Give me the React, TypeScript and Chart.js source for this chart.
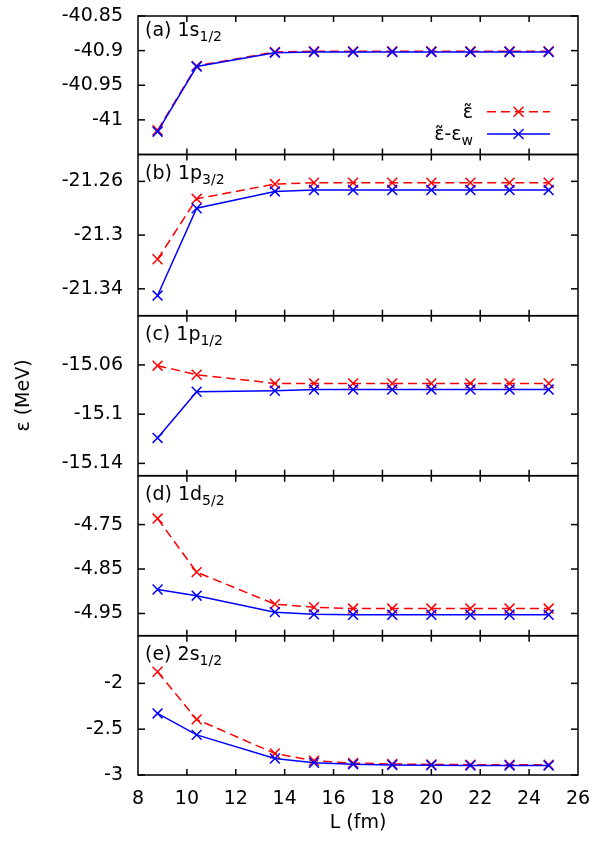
import { useEffect, useRef } from "react";
import { Chart, registerables } from "chart.js";

Chart.register(...registerables);

// ---------- data ----------
const L = [8.8, 10.4, 13.6, 15.2, 16.8, 18.4, 20.0, 21.6, 23.2, 24.8];
const xTickValues = [8, 10, 12, 14, 16, 18, 20, 22, 24, 26];

const epsA = [-41.015, -40.922, -40.902, -40.901, -40.901, -40.901, -40.901, -40.901, -40.901, -40.901];
const epsWA = [-41.017, -40.923, -40.903, -40.902, -40.902, -40.902, -40.902, -40.902, -40.902, -40.902];

const epsB = [-21.318, -21.273, -21.262, -21.261, -21.261, -21.261, -21.261, -21.261, -21.261, -21.261];
const epsWB = [-21.345, -21.280, -21.2675, -21.2665, -21.2665, -21.2665, -21.2665, -21.2665, -21.2665, -21.2665];

const epsC = [-15.0606, -15.068, -15.075, -15.075, -15.075, -15.075, -15.075, -15.075, -15.075, -15.075];
const epsWC = [-15.1193, -15.0818, -15.081, -15.080, -15.080, -15.080, -15.080, -15.080, -15.080, -15.080];

const epsD = [-4.7365, -4.857, -4.929, -4.936, -4.939, -4.939, -4.939, -4.939, -4.939, -4.939];
const epsWD = [-4.896, -4.910, -4.947, -4.952, -4.953, -4.953, -4.953, -4.953, -4.953, -4.953];

const epsE = [-1.873, -2.393, -2.765, -2.845, -2.870, -2.880, -2.885, -2.887, -2.887, -2.888];
const epsWE = [-2.328, -2.562, -2.820, -2.866, -2.882, -2.890, -2.894, -2.896, -2.896, -2.897];

const ticksA = [-41, -40.95, -40.9, -40.85];
const ticksB = [-21.34, -21.3, -21.26];
const ticksC = [-15.14, -15.1, -15.06];
const ticksD = [-4.95, -4.85, -4.75];
const ticksE = [-3, -2.5, -2];

const labelsMain = ["(a) 1s", "(b) 1p", "(c) 1p", "(d) 1d", "(e) 2s"];
const labelsSub = ["1/2", "3/2", "1/2", "5/2", "1/2"];

// ---------- layout / styles ----------
const FONT = "'DejaVu Sans', 'Liberation Sans', Arial, sans-serif";
const FS = 19;
const FS_SUB = 14;
const RED = "rgb(255,0,0)";
const BLUE = "rgb(0,0,255)";

const panels = [
  { id: "ya", eps: epsA, epsw: epsWA, min: -41.05, max: -40.85, ticks: ticksA, h: 138.5, labelOff: 14 },
  { id: "yb", eps: epsB, epsw: epsWB, min: -21.36, max: -21.24, ticks: ticksB, h: 161.2, labelOff: 18.7 },
  { id: "yc", eps: epsC, epsw: epsWC, min: -15.15, max: -15.02, ticks: ticksC, h: 160, labelOff: 18.7 },
  { id: "yd", eps: epsD, epsw: epsWD, min: -5.0, max: -4.64, ticks: ticksD, h: 160, labelOff: 18.7 },
  { id: "ye", eps: epsE, epsw: epsWE, min: -3, max: -1.48, ticks: ticksE, h: 139.3, labelOff: 18.7 },
];

const fmt = (v: number) => String(+v.toFixed(4));

function line(ctx: CanvasRenderingContext2D, x1: number, y1: number, x2: number, y2: number) {
  ctx.beginPath();
  ctx.moveTo(x1, y1);
  ctx.lineTo(x2, y2);
  ctx.stroke();
}

function cross(ctx: CanvasRenderingContext2D, x: number, y: number, r: number) {
  line(ctx, x - r, y - r, x + r, y + r);
  line(ctx, x - r, y + r, x + r, y - r);
}

// draws "ε" with a tilde above it, starting at x (left aligned); returns width
function epsTilde(ctx: CanvasRenderingContext2D, x: number, base: number) {
  ctx.textAlign = "left";
  ctx.fillText("ε", x, base);
  const w = ctx.measureText("ε").width;
  ctx.textAlign = "center";
  ctx.fillText("\u02DC", x + w / 2, base + 1);
  ctx.textAlign = "left";
  return w;
}

const framePlugin = {
  id: "frames",
  afterDatasetsDraw(chart: any) {
    const { ctx, chartArea: ca, scales } = chart;
    ctx.save();
    ctx.strokeStyle = "#000";
    ctx.lineWidth = 1.5;
    ctx.setLineDash([]);
    panels.forEach((p) => {
      const s = scales[p.id];
      ctx.strokeRect(ca.left, s.top, ca.right - ca.left, s.bottom - s.top);
      p.ticks.forEach((v) => {
        const y = s.getPixelForValue(v);
        line(ctx, ca.left, y, ca.left + 7, y);
        line(ctx, ca.right, y, ca.right - 7, y);
      });
      xTickValues.forEach((v) => {
        if (v === 8 || v === 26) return;
        const x = scales.x.getPixelForValue(v);
        line(ctx, x, s.top, x, s.top + 6);
        line(ctx, x, s.bottom, x, s.bottom - 6);
      });
    });
    ctx.restore();
  },
  afterDraw(chart: any) {
    const { ctx, chartArea: ca, scales } = chart;
    ctx.save();
    ctx.fillStyle = "#000";
    ctx.textBaseline = "alphabetic";
    // panel labels
    panels.forEach((p, i) => {
      const s = scales[p.id];
      const base = s.top + p.labelOff + 6;
      ctx.font = `${FS}px ${FONT}`;
      ctx.textAlign = "left";
      ctx.fillText(labelsMain[i], ca.left + 7, base);
      const w = ctx.measureText(labelsMain[i]).width;
      ctx.font = `${FS_SUB}px ${FONT}`;
      ctx.fillText(labelsSub[i], ca.left + 7 + w, base + 5);
    });
    // legend in panel (a)
    const textRight = 473;
    ctx.font = `${FS}px ${FONT}`;
    const epsW = ctx.measureText("ε").width;
    const dashW = ctx.measureText("-").width;
    // row 1
    {
      const y = 111.7;
      ctx.font = `${FS}px ${FONT}`;
      ctx.fillStyle = "#000";
      epsTilde(ctx, textRight - epsW, y + 6);
      ctx.strokeStyle = RED;
      ctx.lineWidth = 1.5;
      ctx.setLineDash([9, 5]);
      line(ctx, 487, y, 550, y);
      ctx.setLineDash([]);
      cross(ctx, 518.5, y, 5);
    }
    // row 2
    {
      const y = 134;
      ctx.font = `${FS_SUB}px ${FONT}`;
      const subW = ctx.measureText("w").width;
      const total = epsW + dashW + epsW + subW;
      let x = textRight - total;
      ctx.font = `${FS}px ${FONT}`;
      ctx.fillStyle = "#000";
      x += epsTilde(ctx, x, y + 6);
      ctx.fillText("-", x, y + 6);
      x += dashW;
      ctx.fillText("ε", x, y + 6);
      x += epsW;
      ctx.font = `${FS_SUB}px ${FONT}`;
      ctx.fillText("w", x, y + 11);
      ctx.strokeStyle = BLUE;
      ctx.lineWidth = 1.5;
      line(ctx, 487, y, 550, y);
      cross(ctx, 518.5, y, 5);
    }
    // y axis title
    ctx.save();
    ctx.translate(24, (ca.top + ca.bottom) / 2);
    ctx.rotate(-Math.PI / 2);
    ctx.font = `${FS}px ${FONT}`;
    ctx.textAlign = "center";
    ctx.textBaseline = "middle";
    ctx.fillStyle = "#000";
    ctx.fillText("ε (MeV)", 0, 0);
    ctx.restore();
    ctx.restore();
  },
};

const zeroPad = (s: any) => {
  s.paddingLeft = 0;
  s.paddingRight = 0;
  s.paddingTop = 0;
  s.paddingBottom = 0;
};

export default function App() {
  const ref = useRef<HTMLCanvasElement>(null);
  useEffect(() => {
    document.body.style.margin = "0";
    const canvas = ref.current;
    if (!canvas) return;
    const datasets: any[] = [];
    panels.forEach((p) => {
      datasets.push({
        label: "eps",
        data: L.map((x, j) => ({ x, y: p.eps[j] })),
        xAxisID: "x",
        yAxisID: p.id,
        borderColor: RED,
        backgroundColor: RED,
        borderWidth: 1.5,
        borderDash: [9, 5],
        pointStyle: "crossRot",
        pointRadius: 7,
        pointBorderWidth: 1.5,
        pointBorderColor: RED,
        fill: false,
        tension: 0,
        order: 1,
      });
      datasets.push({
        label: "eps-w",
        data: L.map((x, j) => ({ x, y: p.epsw[j] })),
        xAxisID: "x",
        yAxisID: p.id,
        borderColor: BLUE,
        backgroundColor: BLUE,
        borderWidth: 1.5,
        pointStyle: "crossRot",
        pointRadius: 7,
        pointBorderWidth: 1.5,
        pointBorderColor: BLUE,
        fill: false,
        tension: 0,
        order: 0,
      });
    });
    const scales: any = {
      x: {
        type: "linear",
        position: "bottom",
        min: 8,
        max: 26,
        grid: { display: false, drawTicks: false },
        border: { display: false },
        afterBuildTicks: (s: any) => {
          s.ticks = xTickValues.map((v) => ({ value: v }));
        },
        ticks: {
          autoSkip: false,
          maxRotation: 0,
          color: "#000",
          font: { family: FONT, size: FS },
          padding: 13,
          callback: (v: any) => String(v),
        },
        title: {
          display: true,
          text: "L (fm)",
          color: "#000",
          font: { family: FONT, size: FS },
          padding: { top: 4, bottom: 9 },
        },
        afterFit: (s: any) => {
          s.height = 68;
          zeroPad(s);
        },
      },
    };
    panels.forEach((p, i) => {
      scales[p.id] = {
        type: "linear",
        position: "left",
        stack: "panels",
        stackWeight: p.h,
        weight: 5 - i,
        offset: false,
        min: p.min,
        max: p.max,
        grid: { display: false, drawTicks: false },
        border: { display: false },
        afterBuildTicks: (s: any) => {
          s.ticks = p.ticks.map((v) => ({ value: v }));
        },
        ticks: {
          autoSkip: false,
          color: "#000",
          font: { family: FONT, size: FS },
          padding: 15,
          callback: (v: any) => fmt(Number(v)),
        },
        afterFit: (s: any) => {
          s.width = 138;
          zeroPad(s);
        },
      };
    });
    const chart = new Chart(canvas, {
      type: "line",
      data: { datasets },
      options: {
        animation: false,
        responsive: false,
        devicePixelRatio: 1,
        layout: { padding: { left: 0, top: 16, right: 17, bottom: 0 } },
        plugins: { legend: { display: false }, tooltip: { enabled: false } },
        scales,
      } as any,
      plugins: [framePlugin],
    });
    return () => chart.destroy();
  }, []);
  return (
    <div style={{ position: "absolute", left: 0, top: 0, width: 595, height: 843, background: "#fff" }}>
      <canvas ref={ref} width={595} height={843} style={{ width: 595, height: 843 }} />
    </div>
  );
}
